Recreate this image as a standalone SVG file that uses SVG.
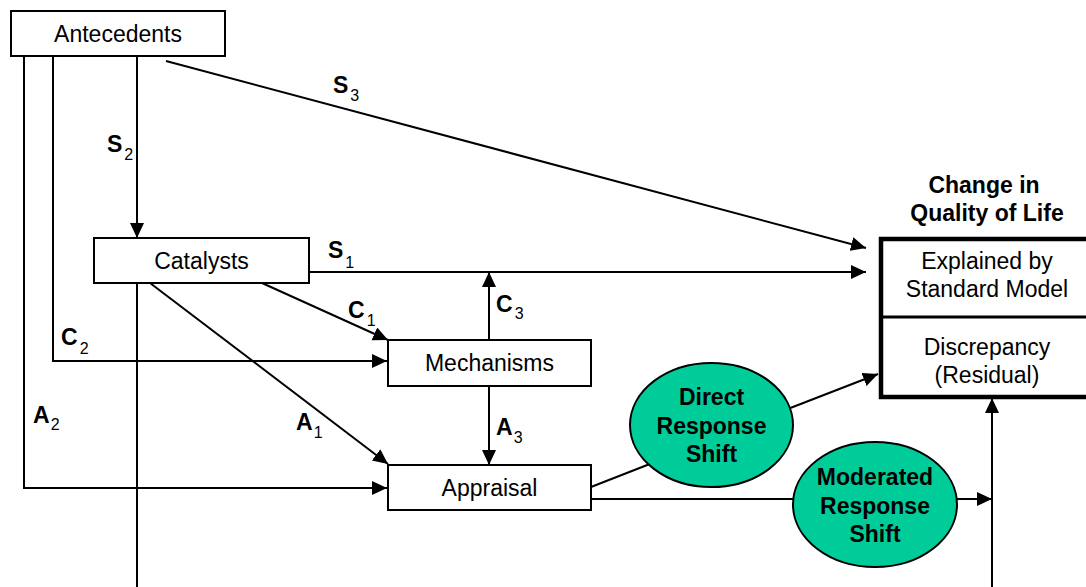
<svg xmlns="http://www.w3.org/2000/svg" width="1086" height="587" viewBox="0 0 1086 587">
<style>
.box{fill:#fff;stroke:#000;stroke-width:2}
.t{font-family:"Liberation Sans",Arial,sans-serif;font-size:23px;fill:#000;text-anchor:middle}
.b{font-family:"Liberation Sans",Arial,sans-serif;font-size:23px;font-weight:bold;fill:#000;text-anchor:middle}
.lab{font-family:"Liberation Sans",Arial,sans-serif;font-size:23px;font-weight:bold;fill:#000}
.sub{font-size:16px;font-weight:normal}
.ln{fill:none;stroke:#000;stroke-width:2}
.ell{fill:#00CC99;stroke:#000;stroke-width:2}
</style>
<defs>
<marker id="arr" markerUnits="userSpaceOnUse" markerWidth="16" markerHeight="15" refX="15" refY="7" orient="auto">
<path d="M0,0 L15,7 L0,14 z" fill="#000"/>
</marker>
</defs>
<rect width="1086" height="587" fill="#fff"/>
<g id="connectors">
<line class="ln" x1="137" y1="57" x2="137" y2="238" marker-end="url(#arr)"/>
<line class="ln" x1="166" y1="61" x2="866" y2="248" marker-end="url(#arr)"/>
<line class="ln" x1="309" y1="272" x2="866" y2="272" marker-end="url(#arr)"/>
<line class="ln" x1="262" y1="283" x2="388" y2="340" marker-end="url(#arr)"/>
<line class="ln" x1="150" y1="283" x2="388" y2="464" marker-end="url(#arr)"/>
<polyline class="ln" points="53,57 53,361 387,361" marker-end="url(#arr)"/>
<polyline class="ln" points="24,57 24,488 387,488" marker-end="url(#arr)"/>
<line class="ln" x1="137" y1="283" x2="137" y2="587"/>
<line class="ln" x1="489" y1="340" x2="489" y2="272" marker-end="url(#arr)"/>
<line class="ln" x1="489" y1="386" x2="489" y2="465" marker-end="url(#arr)"/>
<line class="ln" x1="591" y1="487" x2="660" y2="460"/>
<line class="ln" x1="780" y1="412" x2="878" y2="374" marker-end="url(#arr)"/>
<line class="ln" x1="591" y1="499" x2="992" y2="499" marker-end="url(#arr)"/>
<line class="ln" x1="992" y1="587" x2="992" y2="398" marker-end="url(#arr)"/>
</g>
<g id="labels">
<text class="lab" x="333" y="93">S<tspan class="sub" dx="2" dy="8">3</tspan></text>
<text class="lab" x="107" y="152">S<tspan class="sub" dx="2" dy="7.5">2</tspan></text>
<text class="lab" x="328" y="258">S<tspan class="sub" dx="2" dy="10">1</tspan></text>
<text class="lab" x="348" y="318">C<tspan class="sub" dx="2" dy="8">1</tspan></text>
<text class="lab" x="496" y="312">C<tspan class="sub" dx="2" dy="7">3</tspan></text>
<text class="lab" x="61" y="345">C<tspan class="sub" dx="2" dy="9">2</tspan></text>
<text class="lab" x="296" y="430">A<tspan class="sub" dx="1" dy="8">1</tspan></text>
<text class="lab" x="496" y="435">A<tspan class="sub" dx="1" dy="8">3</tspan></text>
<text class="lab" x="33" y="423">A<tspan class="sub" dx="1" dy="7">2</tspan></text>
</g>
<g id="antecedents">
<rect class="box" x="11" y="11" width="214" height="45"/>
<text class="t" x="118" y="41.5">Antecedents</text>
</g>
<g id="catalysts">
<rect class="box" x="94" y="238" width="215" height="45"/>
<text class="t" x="201.5" y="269">Catalysts</text>
</g>
<g id="mechanisms">
<rect class="box" x="388" y="340" width="203" height="46"/>
<text class="t" x="489.5" y="370.5">Mechanisms</text>
</g>
<g id="appraisal">
<rect class="box" x="388" y="465" width="203" height="45"/>
<text class="t" x="489.5" y="495.5">Appraisal</text>
</g>
<g id="direct-response-shift">
<ellipse class="ell" cx="711.5" cy="425" rx="81.5" ry="62"/>
<text class="b" x="711.5" y="405">Direct</text>
<text class="b" x="711.5" y="434">Response</text>
<text class="b" x="711.5" y="462">Shift</text>
</g>
<g id="moderated-response-shift">
<ellipse class="ell" cx="875" cy="504.5" rx="82" ry="62.5"/>
<text class="b" x="875" y="485">Moderated</text>
<text class="b" x="875" y="513.5">Response</text>
<text class="b" x="875" y="542">Shift</text>
</g>
<g id="quality-of-life">
<text class="b" x="984" y="192.5">Change in</text>
<text class="b" x="987" y="220.5">Quality of Life</text>
<rect x="881" y="239" width="212" height="158" fill="#fff" stroke="#000" stroke-width="4.5"/>
<line x1="881" y1="317" x2="1093" y2="317" stroke="#000" stroke-width="3"/>
<text class="t" x="987" y="269">Explained by</text>
<text class="t" x="987" y="296.5">Standard Model</text>
<text class="t" x="987" y="355">Discrepancy</text>
<text class="t" x="987" y="383">(Residual)</text>
</g>
</svg>
